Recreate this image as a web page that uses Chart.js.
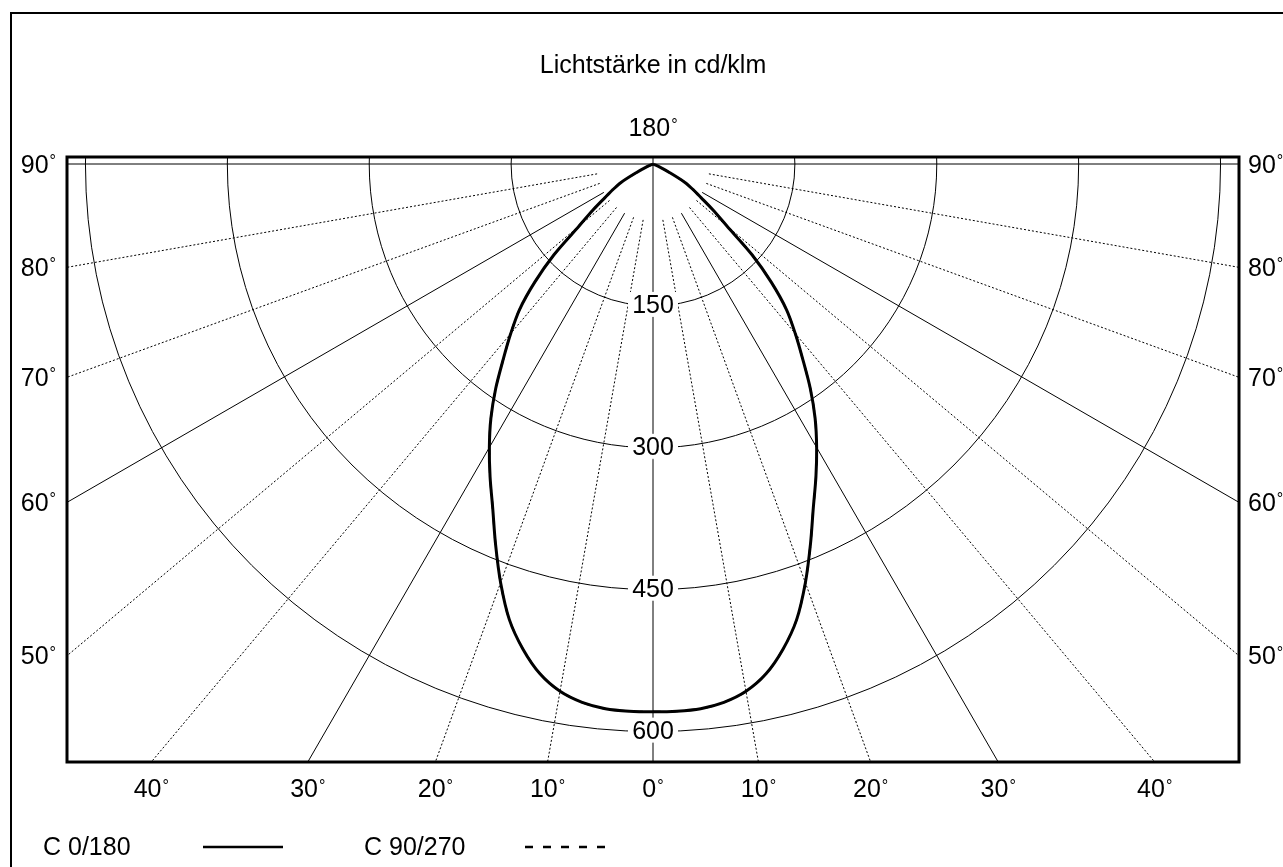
<!DOCTYPE html>
<html>
<head>
<meta charset="utf-8">
<script src="https://cdn.jsdelivr.net/npm/chart.js@4.4.1/dist/chart.umd.min.js"></script>
<style>
html,body{margin:0;padding:0;background:#fff;}
#wrap{width:1283px;height:867px;position:relative;}
</style>
</head>
<body>
<div id="wrap"><canvas id="c" width="1283" height="867"></canvas></div>
<script>
// ---- data ----
const titleText = 'Lichtstärke in cd/klm';
const topAngleLabel = '180';
// emission angle gamma (deg from nadir) and luminous intensity (cd/klm)
const gammaDeg = [0, 2.5, 5, 7.5, 10, 12.5, 15, 17.5, 20, 22.5, 25, 27.5, 30, 32.5, 35, 37.5, 40, 42.5, 45, 47.5, 50, 52.5, 55, 57.5, 60, 62.5, 65, 67.5];
const intensityC0_180 = [579, 579, 578, 574, 566, 552, 531, 505, 471, 435, 401, 373, 346, 319, 290, 260, 234, 209, 177, 142, 102, 80, 62, 50, 39, 20, 8, 0];
const intensityC90_270 = [579, 579, 578, 574, 566, 552, 531, 505, 471, 435, 401, 373, 346, 319, 290, 260, 234, 209, 177, 142, 102, 80, 62, 50, 39, 20, 8, 0];
const ringValues = [150, 300, 450, 600];
const spokeAngles = [10, 20, 30, 40, 50, 60, 70, 80];
const solidSpokeAngles = [0, 30, 60, 90];
const sideTickAngles = [90, 80, 70, 60, 50];
const bottomTickAngles = [40, 30, 20, 10, 0];
const legendLabels = ['C 0/180', 'C 90/270'];
// axis extents in cd/klm
const X_HALF = 619.5;
const Y_TOP = 7.4;
const Y_BOTTOM = -632.1;
const SPOKE_START = 60;

const FONT = '"Liberation Sans", Arial, Helvetica, sans-serif';
const rad = d => d * Math.PI / 180;

function curvePoints(gammas, values) {
  const pts = [];
  for (let i = gammas.length - 1; i >= 0; i--) {
    pts.push({x: -values[i] * Math.sin(rad(gammas[i])), y: -values[i] * Math.cos(rad(gammas[i]))});
  }
  for (let i = 1; i < gammas.length; i++) {
    pts.push({x: values[i] * Math.sin(rad(gammas[i])), y: -values[i] * Math.cos(rad(gammas[i]))});
  }
  return pts;
}

function drawDeg(ctx, num, x, baseline, align) {
  ctx.font = '25px ' + FONT;
  const wN = ctx.measureText(num).width;
  ctx.font = '16px ' + FONT;
  const wD = ctx.measureText('°').width;
  const total = wN + 1 + wD;
  let left = x;
  if (align === 'center') left = x - total / 2;
  else if (align === 'right') left = x - total;
  ctx.textAlign = 'left';
  ctx.textBaseline = 'alphabetic';
  ctx.font = '25px ' + FONT;
  ctx.fillText(num, left, baseline);
  ctx.font = '16px ' + FONT;
  ctx.fillText('°', left + wN + 1, baseline - 6.5);
}

const polarPlugin = {
  id: 'polarPlugin',
  beforeDatasetsDraw(chart) {
    const {ctx, chartArea: a, scales: {x, y}} = chart;
    const px = (vx, vy) => [x.getPixelForValue(vx), y.getPixelForValue(vy)];
    const [cx, cy] = px(0, 0);
    ctx.save();
    ctx.beginPath();
    ctx.rect(a.left, a.top, a.right - a.left, a.bottom - a.top);
    ctx.clip();
    ctx.strokeStyle = '#000';
    ctx.lineWidth = 1;
    ringValues.forEach(v => {
      const r = x.getPixelForValue(v) - cx;
      ctx.beginPath();
      ctx.arc(cx, cy, r, 0, Math.PI * 2);
      ctx.stroke();
    });
    ctx.beginPath();
    ctx.moveTo(cx, a.top); ctx.lineTo(cx, a.bottom);
    ctx.moveTo(a.left, cy); ctx.lineTo(a.right, cy);
    ctx.stroke();
    spokeAngles.forEach(g => {
      const solid = solidSpokeAngles.includes(g);
      ctx.setLineDash(solid ? [] : [2, 2]);
      [-1, 1].forEach(s => {
        const [x0, y0] = px(s * SPOKE_START * Math.sin(rad(g)), -SPOKE_START * Math.cos(rad(g)));
        const [x1, y1] = px(s * 3000 * Math.sin(rad(g)), -3000 * Math.cos(rad(g)));
        ctx.beginPath();
        ctx.moveTo(x0, y0); ctx.lineTo(x1, y1);
        ctx.stroke();
      });
    });
    ctx.setLineDash([]);
    ringValues.forEach(v => {
      const [lx, ly] = px(0, -v);
      ctx.fillStyle = '#fff';
      ctx.fillRect(lx - 25, ly - 14, 50, 25);
      ctx.fillStyle = '#000';
      ctx.font = '25px ' + FONT;
      ctx.textAlign = 'center';
      ctx.textBaseline = 'alphabetic';
      ctx.fillText(String(v), lx, ly + 7);
    });
    ctx.restore();
  },
  afterDatasetsDraw(chart) {
    const {ctx, chartArea: a, scales: {x, y}} = chart;
    const cx = x.getPixelForValue(0);
    ctx.save();
    ctx.strokeStyle = '#000';
    ctx.fillStyle = '#000';
    ctx.lineWidth = 3;
    ctx.strokeRect(a.left, a.top, a.right - a.left, a.bottom - a.top);
    ctx.lineWidth = 2;
    ctx.strokeRect(11, 13, 1400, 1000);
    ctx.font = '25px ' + FONT;
    ctx.textAlign = 'center';
    ctx.textBaseline = 'alphabetic';
    ctx.fillText(titleText, cx, 73);
    drawDeg(ctx, topAngleLabel, cx, 136, 'center');
    sideTickAngles.forEach(g => {
      const vy = g === 90 ? 0 : -X_HALF / Math.tan(rad(g));
      const ly = y.getPixelForValue(vy);
      drawDeg(ctx, String(g), a.left - 11, ly + 8.5, 'right');
      drawDeg(ctx, String(g), a.right + 9, ly + 8.5, 'left');
    });
    const labelled = new Set();
    bottomTickAngles.forEach(g => {
      [-1, 1].forEach(s => {
        const vx = s * (-Y_BOTTOM) * Math.tan(rad(g));
        const lx = x.getPixelForValue(vx);
        const key = Math.round(lx);
        if (labelled.has(key)) return;
        labelled.add(key);
        drawDeg(ctx, String(g), lx, a.bottom + 35, 'center');
      });
    });
    ctx.font = '25px ' + FONT;
    ctx.textAlign = 'left';
    ctx.fillText(legendLabels[0], 43, 855);
    ctx.fillText(legendLabels[1], 364, 855);
    ctx.lineWidth = 2.5;
    ctx.beginPath(); ctx.moveTo(203, 847); ctx.lineTo(283, 847); ctx.stroke();
    ctx.setLineDash([8, 10]);
    ctx.beginPath(); ctx.moveTo(525, 847); ctx.lineTo(605, 847); ctx.stroke();
    ctx.restore();
  }
};

new Chart(document.getElementById('c'), {
  type: 'scatter',
  data: {
    datasets: [
      {
        label: legendLabels[0],
        data: curvePoints(gammaDeg, intensityC0_180),
        showLine: true, borderColor: '#000', borderWidth: 3, pointRadius: 0,
        tension: 0.3, order: 0
      },
      {
        label: legendLabels[1],
        data: curvePoints(gammaDeg, intensityC90_270),
        showLine: true, borderColor: '#000', borderWidth: 2, borderDash: [8, 10], pointRadius: 0,
        tension: 0.3, order: 1
      }
    ]
  },
  options: {
    responsive: false,
    animation: false,
    layout: {padding: {left: 67, top: 157, right: 44, bottom: 105}},
    scales: {
      x: {type: 'linear', min: -X_HALF, max: X_HALF, display: false},
      y: {type: 'linear', min: Y_BOTTOM, max: Y_TOP, display: false}
    },
    plugins: {legend: {display: false}, tooltip: {enabled: false}, title: {display: false}}
  },
  plugins: [polarPlugin]
});
</script>
</body>
</html>
